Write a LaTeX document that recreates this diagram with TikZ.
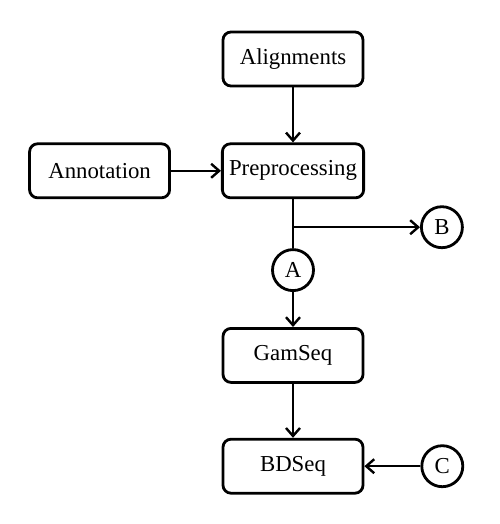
\documentclass[tikz,border=0pt]{standalone}
\usepackage{fontspec}
\setmainfont{Liberation Serif}
\usetikzlibrary{positioning,arrows.meta}
\begin{document}
\begin{tikzpicture}[
  x=0.5pt, y=0.5pt,
  font=\fontsize{11.4}{13}\selectfont,
  every node/.style={
    line width=1.4pt,
  },
  step box/.style={
    draw=black,
    rounded corners=4pt,
    minimum width=70pt,
    minimum height=27pt,
  },
  connector/.style={
    draw=black,
    circle,
    inner sep=0pt,
    minimum size=20.5pt,
  },
  flow/.style={
    line width=1.2pt,
    -{Straight Barb[length=4pt,width=7pt]},
  }
]
\useasboundingbox (0,0) rectangle (499,-524);
\node[step box] (ali) at (293,-59) {Alignments};
\node[step box,below=27.5pt of ali] (pre) {Preprocessing};
\node[step box,left=25pt of pre] (ann) {Annotation};
\coordinate[below=14pt of pre] (split);
\node[connector,right=63.5pt of split] (B) {B};
\node[connector,below=24.5pt of pre] (A) {A};
\node[step box,below=17.5pt of A] (gam) {GamSeq};
\node[step box,below=27pt of gam] (bds) {BDSeq};
\node[connector,right=28pt of bds] (C) {C};
\draw[flow] (ali) -- (pre);
\draw[flow] (ann) -- (pre);
\draw[line width=1.2pt] (pre) -- (A);
\draw[flow] (split) -- (B);
\draw[flow] (A) -- (gam);
\draw[flow] (gam) -- (bds);
\draw[flow] (C) -- (bds);
\end{tikzpicture}
\end{document}
